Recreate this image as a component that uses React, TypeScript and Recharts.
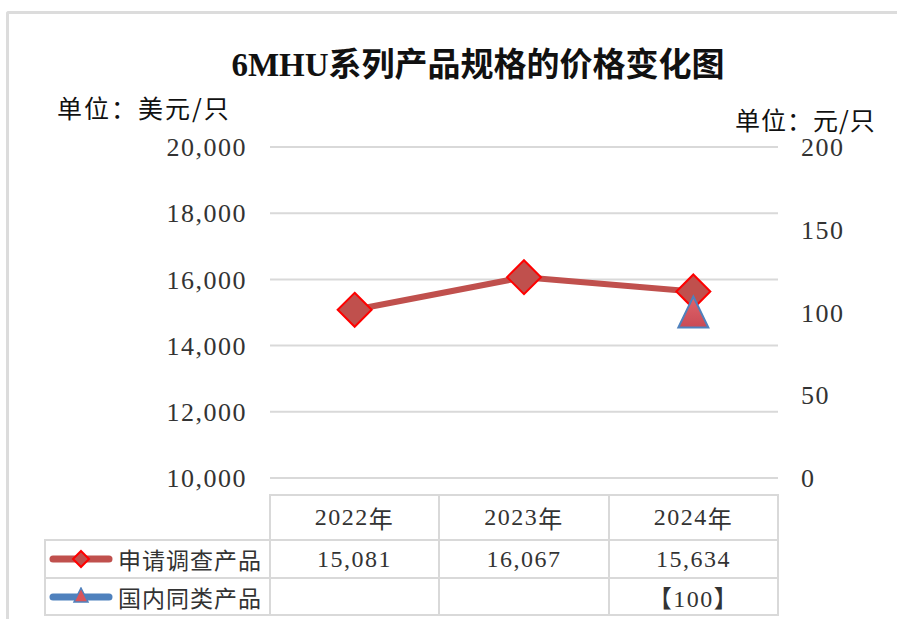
import React from 'react'
import { ComposedChart, Line, XAxis, YAxis, CartesianGrid } from 'recharts'

const years = ['2022年', '2023年', '2024年']
const appliedPrices = [15081, 16067, 15634]
const domesticPrices: (number | null)[] = [null, null, 100]
const leftTicks = [10000, 12000, 14000, 16000, 18000, 20000]
const rightTicks = [0, 50, 100, 150, 200]
const seriesNames = ['申请调查产品', '国内同类产品']

const chartData = years.map((y, i) => ({
  year: y,
  applied: appliedPrices[i],
  domestic: domesticPrices[i],
}))

const RED = '#c0504d'
const BLUE = '#4f81bd'
const GRID = '#d9d9d9'
const TEXT = '#333333'
const NUM_FONT = '"Liberation Serif", "Noto Sans CJK SC", serif'
const CJK_FONT = '"Noto Sans CJK SC", "Liberation Serif", sans-serif'

// plot area edges, page coordinates
const PLOT_L = 270
const PLOT_R = 778
const PLOT_T = 147
const PLOT_B = 478
const W = 897
const H = 619

function Diamond(props: any) {
  const { cx, cy } = props
  if (cx == null || cy == null) return null
  const r = 17
  return (
    <path
      d={`M${cx},${cy - r} L${cx + r},${cy} L${cx},${cy + r} L${cx - r},${cy} Z`}
      fill={RED}
      stroke="#ff0000"
      strokeWidth={2}
    />
  )
}

function Triangle(props: any) {
  const { cx, cy, value } = props
  if (cx == null || cy == null || value == null) return null
  return (
    <path
      d={`M${cx},${cy - 16} L${cx + 15},${cy + 15} L${cx - 15},${cy + 15} Z`}
      fill="url(#triFill)"
      stroke={BLUE}
      strokeWidth={2}
    />
  )
}

function LegendKey({ kind }: { kind: 'diamond' | 'triangle' }) {
  const color = kind === 'diamond' ? RED : BLUE
  return (
    <svg width={66} height={20} style={{ display: 'block' }}>
      <line x1={5} y1={10} x2={61} y2={10} stroke={color} strokeWidth={7} strokeLinecap="round" />
      {kind === 'diamond' ? (
        <path d="M33,2 L41,10 L33,18 L25,10 Z" fill={RED} stroke="#ff0000" strokeWidth={2} />
      ) : (
        <path d="M33,1 L40,15 L26,15 Z" fill="#d9545a" stroke={BLUE} strokeWidth={1.5} />
      )}
    </svg>
  )
}

const cols = [270, 439, 609, 778]
const rows = [495, 540, 578, 615]
const LEG_L = 45

function Cell({ x1, x2, y1, y2, children, font = NUM_FONT, size = 24 }: any) {
  return (
    <div
      style={{
        position: 'absolute',
        left: x1 - 1,
        top: y1 - 1,
        width: x2 - x1 + 2,
        height: y2 - y1 + 2,
        boxSizing: 'border-box',
        border: `2px solid ${GRID}`,
        display: 'flex',
        alignItems: 'center',
        justifyContent: 'center',
        fontFamily: font,
        fontSize: size,
        letterSpacing: 1.5,
        color: TEXT,
      }}
    >
      {children}
    </div>
  )
}

const fmt = (v: number) => v.toLocaleString('en-US')

export default function App() {
  return (
    <div style={{ position: 'fixed', left: 0, top: 0, width: W, height: H, overflow: 'hidden', background: '#fff' }}>
      <div
        style={{
          position: 'absolute',
          left: 6,
          top: 11,
          width: W,
          height: H,
          borderLeft: '3px solid #dcdcdc',
          borderTop: '3px solid #dcdcdc',
          borderTopLeftRadius: 3,
        }}
      />
      <div
        style={{
          position: 'absolute',
          left: 178,
          width: 600,
          top: 41,
          textAlign: 'center',
          fontFamily: NUM_FONT,
          fontWeight: 'bold',
          fontSize: 33,
          lineHeight: '42px',
          color: '#111',
          whiteSpace: 'nowrap',
        }}
      >
        6MHU<span style={{ fontFamily: CJK_FONT }}>系列产品规格的价格变化图</span>
      </div>
      <div style={{ position: 'absolute', left: 57, top: 94, fontFamily: CJK_FONT, fontSize: 25, letterSpacing: 2, color: '#111', whiteSpace: 'nowrap', lineHeight: '26px' }}>
        单位：美元/只
      </div>
      <div style={{ position: 'absolute', left: 735, top: 106, fontFamily: CJK_FONT, fontSize: 25, letterSpacing: 1, color: '#111', whiteSpace: 'nowrap', lineHeight: '26px' }}>
        单位：元/只
      </div>

      <div style={{ position: 'absolute', left: 0, top: 0 }}>
        <ComposedChart
          width={W}
          height={H}
          data={chartData}
          margin={{ top: PLOT_T, bottom: H - PLOT_B, left: PLOT_L - 120, right: W - PLOT_R - 100 }}
        >
          <defs>
            <linearGradient id="triFill" x1="0" y1="0" x2="0" y2="1">
              <stop offset="0%" stopColor="#e0656b" />
              <stop offset="100%" stopColor="#c94a55" />
            </linearGradient>
          </defs>
          <CartesianGrid yAxisId="left" horizontal vertical={false} stroke={GRID} strokeWidth={2} />
          <XAxis dataKey="year" scale="band" hide />
          <YAxis
            yAxisId="left"
            orientation="left"
            width={120}
            domain={[10000, 20000]}
            ticks={leftTicks}
            tickFormatter={fmt}
            axisLine={false}
            tickLine={false}
            tickMargin={17}
            tick={{ fill: TEXT, fontSize: 26, fontFamily: NUM_FONT, letterSpacing: 1.5 }}
          />
          <YAxis
            yAxisId="right"
            orientation="right"
            width={100}
            domain={[0, 200]}
            ticks={rightTicks}
            axisLine={false}
            tickLine={false}
            tickMargin={17}
            tick={{ fill: TEXT, fontSize: 26, fontFamily: NUM_FONT, letterSpacing: 1.5 }}
          />
          <Line
            yAxisId="left"
            dataKey="applied"
            stroke={RED}
            strokeWidth={6}
            dot={<Diamond />}
            activeDot={false}
            isAnimationActive={false}
          />
          <Line
            yAxisId="right"
            dataKey="domestic"
            stroke={BLUE}
            strokeWidth={6}
            dot={<Triangle />}
            activeDot={false}
            connectNulls={false}
            isAnimationActive={false}
          />
        </ComposedChart>
      </div>

      {years.map((y, i) => (
        <Cell key={y} x1={cols[i]} x2={cols[i + 1]} y1={rows[0]} y2={rows[1]}>
          {y.replace('年', '')}
          <span style={{ fontFamily: CJK_FONT }}>年</span>
        </Cell>
      ))}
      {seriesNames.map((name, r) => (
        <React.Fragment key={name}>
          <Cell x1={LEG_L} x2={cols[0]} y1={rows[r + 1]} y2={rows[r + 2]} font={CJK_FONT} size={23}>
            <div style={{ display: 'flex', alignItems: 'center', width: '100%', paddingLeft: 2 }}>
              <LegendKey kind={r === 0 ? 'diamond' : 'triangle'} />
              <span style={{ marginLeft: 4, letterSpacing: 1 }}>{name}</span>
            </div>
          </Cell>
          {years.map((y, i) => {
            const v = r === 0 ? appliedPrices[i] : domesticPrices[i]
            return (
              <Cell key={y} x1={cols[i]} x2={cols[i + 1]} y1={rows[r + 1]} y2={rows[r + 2]}>
                {v == null ? '' : r === 0 ? fmt(v) : `【${fmt(v)}】`}
              </Cell>
            )
          })}
        </React.Fragment>
      ))}
    </div>
  )
}
